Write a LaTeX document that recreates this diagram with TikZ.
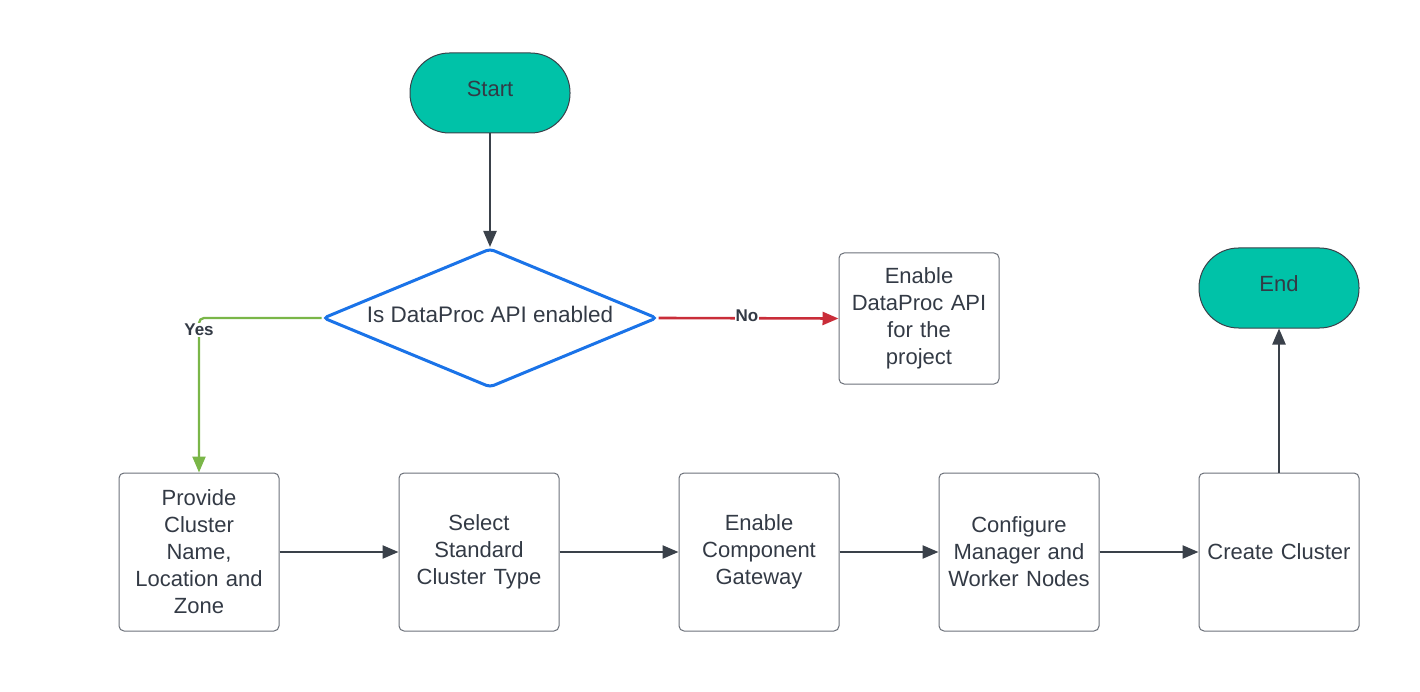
\documentclass[tikz,border=0pt]{standalone}
\usepackage{fontspec}
\setmainfont{Liberation Sans}
\usetikzlibrary{shapes.geometric,arrows.meta}
\definecolor{txt}{HTML}{333A45}
\definecolor{ln}{HTML}{3A414A}
\definecolor{teal}{HTML}{00C2A8}
\definecolor{dblue}{HTML}{1A73E8}
\definecolor{ygreen}{HTML}{7AB648}
\definecolor{nred}{HTML}{C92D39}
\definecolor{boxline}{HTML}{6B7079}
\tikzset{
  term/.style={draw=ln, fill=teal, line width=1pt, rounded corners=39.5pt, minimum width=160pt, minimum height=80pt, inner sep=0pt, font=\fontsize{22}{27}\selectfont, text=txt, text depth=8pt},
  proc/.style={draw=boxline, line width=1pt, rounded corners=5pt, minimum width=160pt, inner sep=0pt, align=center, text width=158pt, font=\fontsize{22}{27}\selectfont, text=txt},
  dec/.style={diamond, draw=dblue, line width=3pt, rounded corners=4pt, minimum width=334pt, minimum height=139pt, aspect=2.4, inner sep=0pt},
  conn/.style={draw=ln, line width=2.3pt, -{Triangle[length=16pt,width=13pt]}},
  lbl/.style={fill=white, inner sep=1pt, font=\bfseries\fontsize{17}{19}\selectfont, text=txt}
}
\begin{document}
\begin{tikzpicture}[x=1pt,y=-1pt]
\useasboundingbox (0,0) rectangle (1420,692);
\node[term] (start) at (490,93) {Start};
\node[dec] (dec) at (490,318) {};
\node[text=txt, font=\fontsize{22.5}{27}\selectfont] (dectext) at (490,314) {Is DataProc API enabled};
\node[proc, minimum height=131pt] (enable) at (919,318.5) {Enable\\DataProc API\\for the\\project};
\node[term] (end) at (1279,288) {End};
\node[proc, minimum height=158pt] (p1) at (199,552) {Provide\\Cluster\\Name,\\Location and\\Zone};
\node[proc, minimum height=158pt] (p2) at (479,552) {Select\\Standard\\Cluster Type};
\node[proc, minimum height=158pt] (p3) at (759,552) {Enable\\Component\\Gateway};
\node[proc, minimum height=158pt] (p4) at (1019,552) {Configure\\Manager and\\Worker Nodes};
\node[proc, minimum height=158pt] (p5) at (1279,552) {Create Cluster};
\draw[conn] (start.south) -- (dec.north);
\draw[conn, draw=ygreen, rounded corners=5pt] (dec.west) -| (p1.north);
\node[lbl] (yes) at (199,330) {Yes};
\draw[conn, draw=nred, line width=2.6pt] (dec.east) -- (enable.west);
\node[lbl] (no) at (747,316) {No};
\draw[conn] (p1.east) -- (p2.west);
\draw[conn] (p2.east) -- (p3.west);
\draw[conn] (p3.east) -- (p4.west);
\draw[conn] (p4.east) -- (p5.west);
\draw[conn] (p5.north) -- (end.south);
\end{tikzpicture}
\end{document}
